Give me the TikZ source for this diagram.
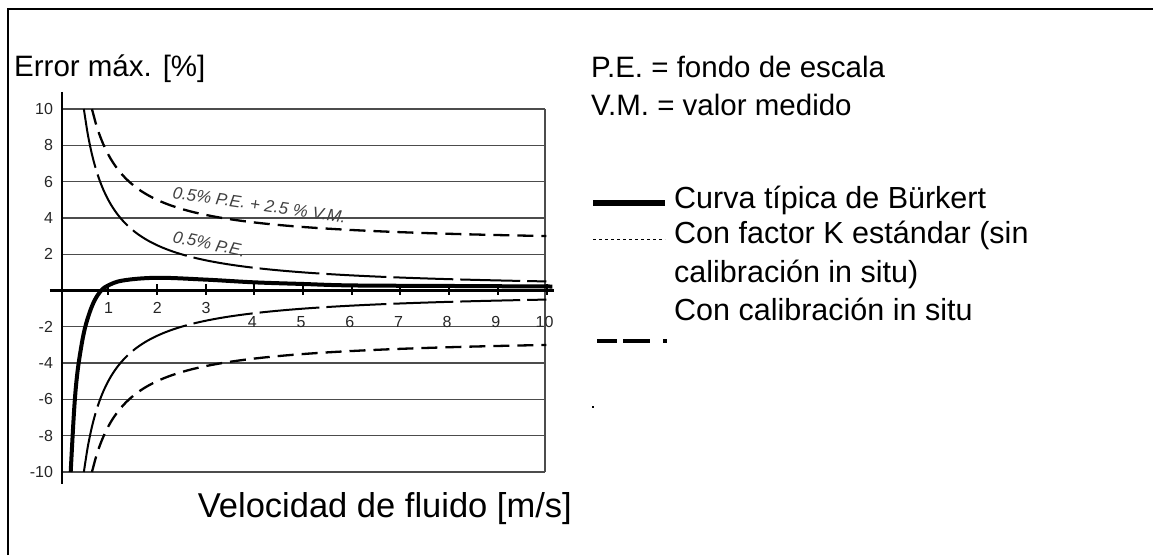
\documentclass[tikz,border=0pt]{standalone}
\usepackage{fontspec}
\setmainfont{Liberation Sans}
\begin{document}
\begin{tikzpicture}[x=1pt,y=1pt,
  bigtxt/.style={inner sep=0pt,font=\fontsize{29.5}{35}\selectfont},
  legtxt/.style={inner sep=0pt,font=\fontsize{30.5}{36}\selectfont},
  ticktxt/.style={inner sep=0pt,font=\fontsize{16}{19}\selectfont,text=black!85},
  annot/.style={inner sep=0pt,font=\fontsize{17}{20}\selectfont\itshape,text=black!75},
  gridline/.style={draw=black!70,line width=1.3pt},
  axisline/.style={draw=black,line width=2.5pt},
  burkert/.style={draw=black,line width=4pt,line join=round},
  outercurve/.style={draw=black,line width=2.3pt,dash pattern=on 16pt off 8pt},
  innercurve/.style={draw=black,line width=2pt,dash pattern=on 60pt off 7pt},
  framestyle/.style={draw=black,line width=2.5pt}]
\useasboundingbox (0,0) rectangle (1153,-555);
% frame (left and top only)
\draw[framestyle] (8,-555) -- (8,-9) -- (1153,-9);
% titles
\node[bigtxt,anchor=base west] (ylab) at (14,-76) {Error máx. [\%]};
\node[bigtxt,anchor=base east,font=\fontsize{34.5}{40}\selectfont] (xlab) at (572,-517) {Velocidad de fluido [m/s]};
\node[bigtxt,anchor=base west] (pe) at (591,-77) {P.E. = fondo de escala};
\node[bigtxt,anchor=base west] (vm) at (591,-115) {V.M. = valor medido};
% legend
\draw[line width=6pt] (593,-203) -- (665,-203);
\node[legtxt,anchor=base west] (l1) at (674,-208) {Curva típica de Bürkert};
\draw[line width=1pt,dash pattern=on 3pt off 3pt] (593,-239) -- (665,-239);
\node[legtxt,anchor=base west] (l2) at (674,-243) {Con factor K estándar (sin};
\node[legtxt,anchor=base west] (l2b) at (674,-282) {calibración in situ)};
\draw[line width=4pt] (597,-341) -- (617,-341);
\draw[line width=4pt] (623,-341) -- (650,-341);
\draw[line width=4pt] (663,-341) -- (667,-341);
\node[legtxt,anchor=base west] (l3) at (674,-320) {Con calibración in situ};
\fill (592,-406) rectangle (594,-408);
% chart
\begin{scope}[shift={(59.5,-290.5)},x=48.7pt,y=18.15pt]
  \foreach \e in {10,8,6,4,2,-2,-4,-6,-8,-10}{
    \draw[gridline] (0.05,\e) -- (9.97,\e);
    \node[ticktxt,anchor=east] (yt\e) at (-0.13,\e) {\e};
  }
  \draw[gridline] (9.97,-10) -- (9.97,10);
  % axes
  \draw[axisline] (0.05,10.95) -- (0.05,-10.65);
  \draw[axisline] (-0.2,0) -- (10.15,0);
  \foreach \v in {1,...,10}{
    \draw[line width=2pt] (\v,0.35) -- (\v,-0.25);
  }
  \foreach \v in {1,2,3}{
    \node[ticktxt] (xt\v) at (\v+0.01,-0.98) {\v};
  }
  \foreach \v in {4,...,10}{
    \node[ticktxt] (xt\v) at (\v-0.04,-1.74) {\v};
  }
  % curves
  \draw[outercurve] plot[domain=0.667:10,samples=120,smooth] (\x,{5/\x+2.5});
  \draw[outercurve] plot[domain=0.667:10,samples=120,smooth] (\x,{-5/\x-2.5});
  \draw[innercurve] plot[domain=0.5:10,samples=120,smooth] (\x,{5/\x});
  \draw[innercurve] plot[domain=0.5:10,samples=120,smooth] (\x,{-5/\x});
  \draw[burkert] plot[smooth,tension=0.6] coordinates {(0.23,-10) (0.3,-6.6) (0.36,-4.7) (0.44,-3.2) (0.52,-2.1) (0.62,-1.2) (0.72,-0.55) (0.84,-0.05) (0.98,0.25) (1.3,0.55) (2,0.7) (3,0.6) (4,0.45) (5,0.36) (6,0.28) (8,0.25) (10.12,0.22)};
\end{scope}
% annotations
\node[annot,anchor=base west,rotate=-8.3] (a1) at (172,-198) {0.5\% P.E. + 2.5 \% V.M.};
\node[annot,anchor=base west,rotate=-12] (a2) at (172,-242) {0.5\% P.E.};
\end{tikzpicture}
\end{document}
